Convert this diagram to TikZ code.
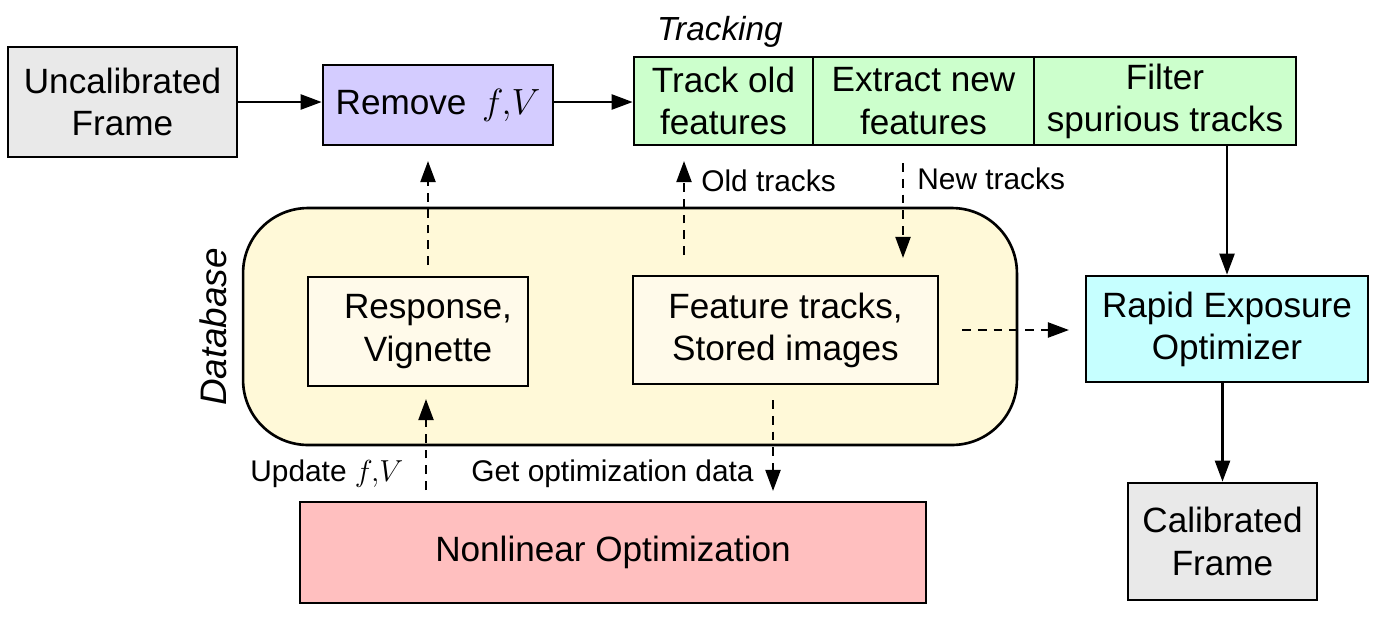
\documentclass[tikz,border=0pt]{standalone}
\usepackage{fontspec}
\setmainfont{Liberation Sans}
\usetikzlibrary{arrows.meta}
\definecolor{cgray}{HTML}{E9E9E9}
\definecolor{clav}{HTML}{D4CCFF}
\definecolor{cgreen}{HTML}{CCFFCC}
\definecolor{cyel}{HTML}{FFF9D8}
\definecolor{cinner}{HTML}{FFFAEA}
\definecolor{ccyan}{HTML}{C6FFFF}
\definecolor{cpink}{HTML}{FFBFBF}
\tikzset{
  box/.style={draw, line width=1.5pt, inner sep=0pt, align=center, font=\fontsize{20}{24}\selectfont},
  lbl/.style={inner sep=0pt, font=\fontsize{17}{20}\selectfont},
  solidarrow/.style={line width=1.5pt, -{Triangle[length=12pt,width=8.5pt]}},
  dasharrow/.style={line width=1.4pt, dash pattern=on 5pt off 4pt, -{Triangle[length=12pt,width=8.5pt]}},
}
\begin{document}
\begin{tikzpicture}[x=0.02cm,y=-0.02cm]
\useasboundingbox (0,0) rectangle (1388,630);
% database background
\node[box, fill=cyel, rounded corners=1.3cm, minimum width=15.48cm, minimum height=4.74cm] (db) at (630,326.5) {};
\node[lbl, rotate=90, font=\fontsize{21}{24}\selectfont\itshape] (dblbl) at (213,327) {Database};
% nodes
\node[box, fill=cgray, minimum width=4.58cm, minimum height=2.2cm] (unc) at (122.5,102) {Uncalibrated\\Frame};
\node[box, fill=clav, minimum width=4.6cm, minimum height=1.6cm] (rem) at (438,105) {Remove\, $f,\!V$};
\node[box, fill=cgreen, minimum width=3.58cm, minimum height=1.76cm] (t1) at (723.5,101) {Track old\\features};
\node[box, fill=cgreen, minimum width=4.42cm, minimum height=1.76cm] (t2) at (923.5,101) {Extract new\\features};
\node[box, fill=cgreen, minimum width=5.24cm, minimum height=1.76cm] (t3) at (1165,101) {Filter\\spurious tracks};
\node[lbl, font=\fontsize{19}{22}\selectfont\itshape] (trklbl) at (720,32) {Tracking};
\node[box, fill=cinner, minimum width=4.4cm, minimum height=2.18cm] (resp) at (418,331.5) {\hspace*{0.4cm}Response,\\\hspace*{0.4cm}Vignette};
\node[box, fill=cinner, minimum width=6.1cm, minimum height=2.16cm] (feat) at (785.5,330) {Feature tracks,\\Stored images};
\node[box, fill=ccyan, minimum width=5.64cm, minimum height=2.12cm] (rapid) at (1227,329) {Rapid Exposure\\Optimizer};
\node[box, fill=cgray, minimum width=3.78cm, minimum height=2.34cm] (cal) at (1222.5,541.5) {Calibrated\\Frame};
\node[box, fill=cpink, minimum width=12.52cm, minimum height=2.02cm] (nlo) at (613,552.5) {Nonlinear Optimization};
% labels
\node[lbl, anchor=west] (oldl) at (701,181) {Old tracks};
\node[lbl, anchor=west] (newl) at (917,179) {New tracks};
\node[lbl, anchor=west] (updl) at (250,474) {Update $f,\!V$};
\node[lbl, anchor=west] (getl) at (471,474) {Get optimization data};
% coordinates
\coordinate (c1a) at (428,265); \coordinate (c1b) at (428,161);
\coordinate (c2a) at (684,255); \coordinate (c2b) at (684,161);
\coordinate (c3a) at (903,163); \coordinate (c3b) at (903,258);
\coordinate (c4a) at (962,330); \coordinate (c4b) at (1069,330);
\coordinate (c5a) at (426,490); \coordinate (c5b) at (426,399);
\coordinate (c6a) at (773,400); \coordinate (c6b) at (773,491);
% connectors
\draw[solidarrow] (unc.east) -- (unc.east -| rem.west);
\draw[solidarrow] (rem.east |- unc.east) -- (unc.east -| t1.west);
\draw[solidarrow] (rapid.north |- t3.south) -- (rapid.north);
\draw[solidarrow] (cal.north |- rapid.south) -- (cal.north);
\draw[dasharrow] (c1a) -- (c1b);
\draw[dasharrow] (c2a) -- (c2b);
\draw[dasharrow] (c3a) -- (c3b);
\draw[dasharrow] (c4a) -- (c4b);
\draw[dasharrow] (c5a) -- (c5b);
\draw[dasharrow] (c6a) -- (c6b);
\end{tikzpicture}
\end{document}
